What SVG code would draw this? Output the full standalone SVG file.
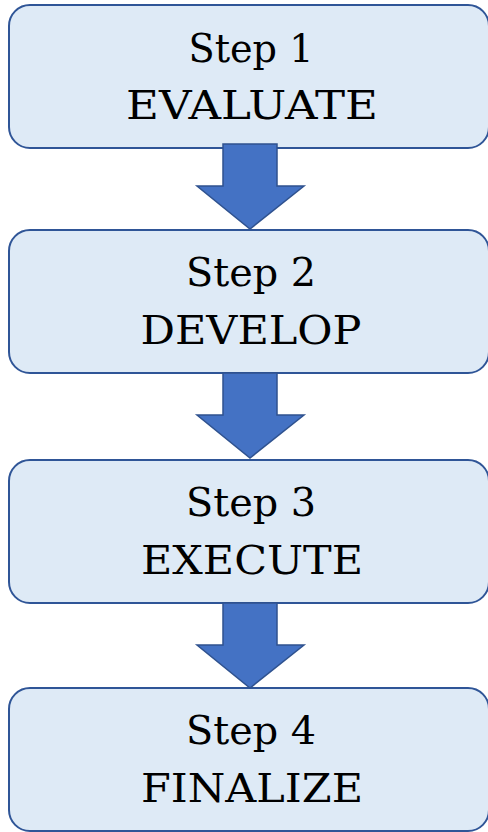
<svg xmlns="http://www.w3.org/2000/svg" width="488" height="832" viewBox="0 0 488 832">
  <style>
    .box { fill: #DEEAF6; stroke: #2F5597; stroke-width: 2; }
    .label { font-family: "DejaVu Serif", serif; font-size: 40px; fill: #000; text-anchor: middle; }
    .arrow { fill: #4472C4; stroke: #2F528F; stroke-width: 1.5; stroke-linejoin: miter; }
  </style>
  <defs>
    <!-- block arrow, drawn from its top edge at y=0 -->
    <path id="down" d="M223,0 H277 V42 H304 L250,85 L197,42 H223 Z"/>
  </defs>

  <g id="step1">
    <rect class="box" x="9" y="5" width="480" height="143" rx="21"/>
    <text class="label" x="251" y="62" textLength="125" lengthAdjust="spacingAndGlyphs">Step 1</text>
    <text class="label" x="252" y="119" textLength="252" lengthAdjust="spacingAndGlyphs">EVALUATE</text>
  </g>
  <g id="step2">
    <rect class="box" x="9" y="230" width="480" height="143" rx="21"/>
    <text class="label" x="251" y="286" textLength="130" lengthAdjust="spacingAndGlyphs">Step 2</text>
    <text class="label" x="251" y="344" textLength="221" lengthAdjust="spacingAndGlyphs">DEVELOP</text>
  </g>
  <g id="step3">
    <rect class="box" x="9" y="460" width="480" height="143" rx="21"/>
    <text class="label" x="251" y="516" textLength="130" lengthAdjust="spacingAndGlyphs">Step 3</text>
    <text class="label" x="252" y="574" textLength="222" lengthAdjust="spacingAndGlyphs">EXECUTE</text>
  </g>
  <g id="step4">
    <rect class="box" x="9" y="688" width="480" height="143" rx="21"/>
    <text class="label" x="251" y="744" textLength="130" lengthAdjust="spacingAndGlyphs">Step 4</text>
    <text class="label" x="252" y="802" textLength="222" lengthAdjust="spacingAndGlyphs">FINALIZE</text>
  </g>

  <g id="connectors">
    <use href="#down" class="arrow" transform="translate(0,144)"/>
    <use href="#down" class="arrow" transform="translate(0,373)"/>
    <use href="#down" class="arrow" transform="translate(0,603)"/>
  </g>
</svg>
